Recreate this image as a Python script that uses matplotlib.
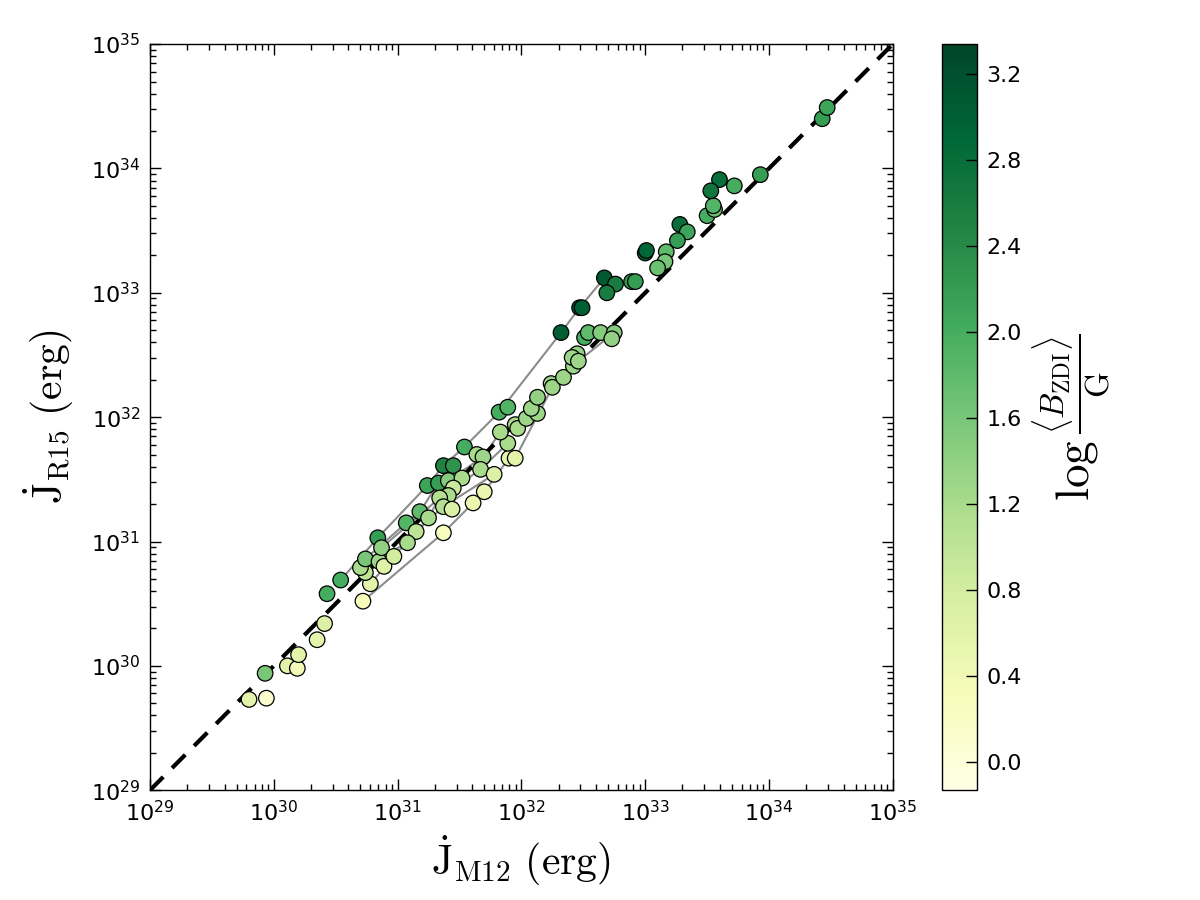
import numpy as np
import matplotlib
matplotlib.use("Agg")
import matplotlib.pyplot as plt
from matplotlib.ticker import LogLocator, FormatStrFormatter

# ---- data (log10 values) ----
log_J_M12 = [29.80, 29.94, 29.93, 30.11, 30.19, 30.20, 30.35, 30.41, 30.43, 30.54,
             30.72, 30.78, 30.74, 30.70, 30.74, 30.85, 30.89, 30.84, 30.87, 30.97,
             31.07, 31.15, 31.08, 31.18, 31.25, 31.37, 31.24, 31.33, 31.37, 31.45,
             31.41, 31.52, 31.45, 31.41, 31.34, 31.37, 31.44, 31.61, 31.70, 31.54,
             31.64, 31.69, 31.67, 31.78, 31.90, 31.95, 31.89, 31.83, 31.82, 31.89,
             31.95, 31.97, 32.04, 32.13, 32.08, 32.13, 32.24, 32.25, 32.34, 32.42,
             32.45, 32.41, 32.46, 32.51, 32.54, 32.64, 32.75, 32.73, 32.32, 32.47,
             32.49, 32.67, 32.76, 32.69, 32.89, 32.92, 33.00, 33.01, 33.17, 33.16,
             33.10, 33.28, 33.34, 33.26, 33.50, 33.56, 33.55, 33.60, 33.53, 33.72,
             33.93, 34.43, 34.47]
log_J_R15 = [29.73, 29.74, 29.94, 30.00, 29.98, 30.09, 30.21, 30.34, 30.58, 30.69,
             30.52, 30.66, 30.75, 30.79, 30.86, 30.84, 30.80, 31.03, 30.95, 30.88,
             31.15, 31.08, 30.99, 31.24, 31.19, 31.07, 31.45, 31.47, 31.61, 31.61,
             31.49, 31.51, 31.43, 31.37, 31.35, 31.28, 31.26, 31.31, 31.40, 31.76,
             31.70, 31.68, 31.58, 31.54, 31.67, 31.67, 31.79, 31.88, 32.04, 32.08,
             31.94, 31.91, 31.99, 32.03, 32.07, 32.16, 32.27, 32.24, 32.32, 32.41,
             32.51, 32.48, 32.45, 32.64, 32.68, 32.68, 32.68, 32.63, 32.68, 32.88,
             32.88, 33.12, 33.07, 33.00, 33.09, 33.09, 33.32, 33.34, 33.33, 33.25,
             33.20, 33.55, 33.49, 33.42, 33.62, 33.67, 33.70, 33.91, 33.82, 33.86,
             33.95, 34.40, 34.49]
log_B = [0.6, 0.1, 1.6, 0.6, 0.35, 0.6, 0.55, 0.7, 2.0, 2.0,
         0.3, 0.6, 1.0, 1.2, 1.6, 1.3, 0.65, 2.2, 1.4, 0.8,
         1.9, 1.0, 1.2, 1.8, 1.2, 0.25, 2.1, 2.2, 2.5, 2.3,
         1.5, 1.2, 0.9, 1.2, 1.1, 1.1, 0.7, 0.5, 0.5, 2.0,
         1.2, 1.3, 1.2, 0.7, 0.6, 0.6, 1.2, 1.2, 2.0, 1.9,
         1.2, 1.2, 1.3, 1.3, 1.3, 1.4, 1.3, 1.3, 1.3, 1.3,
         1.4, 1.3, 1.3, 2.0, 1.8, 1.5, 1.5, 1.4, 3.0, 3.0,
         3.0, 3.1, 2.6, 2.6, 2.2, 2.2, 2.9, 2.9, 1.8, 1.6,
         1.7, 2.8, 2.1, 2.2, 2.0, 1.7, 1.9, 2.8, 2.7, 2.0,
         2.2, 2.2, 2.1]

# point indices joined by gray lines (tracks)
tracks = [
    [9, 17, 26, 28, 39, 48, 68, 69, 71],
    [14, 20, 23, 27, 29],
    [13, 22, 24, 30, 41, 47, 50],
    [11, 19, 21, 35, 43],
    [10, 25, 37, 38, 44, 45, 57, 59, 62, 66],
    [12, 18, 34, 42, 46],
]

cb_ticks = [0.0, 0.4, 0.8, 1.2, 1.6, 2.0, 2.4, 2.8, 3.2]

plt.rcParams['mathtext.fontset'] = 'cm'
plt.rcParams['font.family'] = 'DejaVu Sans'

x = 10 ** np.array(log_J_M12)
y = 10 ** np.array(log_J_R15)
c = np.array(log_B)

fig = plt.figure(figsize=(12, 9), dpi=100, facecolor='white')
ax = fig.add_axes([0.125, 0.122, 0.619, 0.829])
cax = fig.add_axes([0.785, 0.122, 0.029, 0.829])

for tr in tracks:
    ax.plot(x[tr], y[tr], color='0.55', lw=1.5, zorder=1)

ax.plot([1e29, 1e35], [1e29, 1e35], color='black', lw=3, dashes=[4.5, 3], zorder=2)

sc = ax.scatter(x, y, c=c, cmap='YlGn', vmin=-0.13, vmax=3.34, s=125,
                edgecolors='black', linewidths=0.9, zorder=3)

ax.set_xscale('log')
ax.set_yscale('log')
ax.set_xlim(1e29, 1e35)
ax.set_ylim(1e29, 1e35)
ax.xaxis.set_major_locator(LogLocator(base=10, numticks=10))
ax.yaxis.set_major_locator(LogLocator(base=10, numticks=10))
ax.xaxis.set_minor_locator(LogLocator(base=10, subs=np.arange(2, 10), numticks=20))
ax.yaxis.set_minor_locator(LogLocator(base=10, subs=np.arange(2, 10), numticks=20))
ax.tick_params(which='both', direction='in', top=True, right=True, labelsize=16, pad=7)
ax.tick_params(which='major', length=8, width=1)
ax.tick_params(which='minor', length=4, width=1)
for sp in ax.spines.values():
    sp.set_linewidth(1)

ax.set_xlabel(r'$\dot{\rm J}_{\rm M12}\ (\rm erg)$', fontsize=30, labelpad=6)
ax.set_ylabel(r'$\dot{\rm J}_{\rm R15}\ (\rm erg)$', fontsize=30, labelpad=11)

cb = fig.colorbar(sc, cax=cax, ticks=cb_ticks, format=FormatStrFormatter('%.1f'))
cb.ax.tick_params(direction='in', length=8, width=1, labelsize=16, pad=7)
cb.outline.set_linewidth(1)
cb.set_label(r'$\log\frac{\langle B_{\rm ZDI}\rangle}{\rm G}$', fontsize=34, labelpad=6)

fig.savefig('out.png', dpi=100, facecolor='white')
